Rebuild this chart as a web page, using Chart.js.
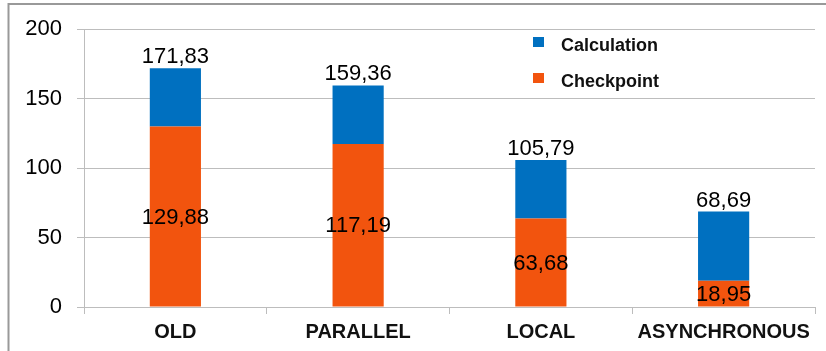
<!DOCTYPE html>
<html>
<head>
<meta charset="utf-8">
<script src="https://cdn.jsdelivr.net/npm/chart.js@4.4.1/dist/chart.umd.min.js"></script>
<style>
  html, body { margin: 0; padding: 0; background: #fff; }
  #wrap { width: 826px; height: 351px; }
</style>
</head>
<body>
<div id="wrap"><canvas id="chart" width="826" height="351"></canvas></div>
<script>
// ── Data ──────────────────────────────
const categories = ['OLD', 'PARALLEL', 'LOCAL', 'ASYNCHRONOUS'];
const checkpoint = [129.88, 117.19, 63.68, 18.95];
const calculation = [41.95, 42.17, 42.11, 49.74];
const yTicks = [0, 50, 100, 150, 200];

const BLUE = '#0070C0';
const ORANGE = '#F2540E';
const GRID = '#BDBDBD';
const FONT = "'Liberation Sans', Arial, sans-serif";

const fmt = v => v.toFixed(2).replace('.', ',');

// ── Frame around the chart (top + left edges visible) ──
const framePlugin = {
  id: 'frame',
  beforeDraw(chart) {
    const ctx = chart.ctx;
    ctx.save();
    ctx.fillStyle = '#fff';
    ctx.fillRect(0, 0, chart.width, chart.height);
    ctx.strokeStyle = '#999';
    ctx.lineWidth = 2;
    ctx.beginPath();
    ctx.moveTo(chart.width, 4);
    ctx.lineTo(8.5, 4);
    ctx.lineTo(8.5, chart.height);
    ctx.stroke();
    ctx.restore();
  }
};

// ── Value labels ──
const labelPlugin = {
  id: 'valueLabels',
  afterDatasetsDraw(chart) {
    const ctx = chart.ctx;
    const bottom = chart.getDatasetMeta(0);
    const top = chart.getDatasetMeta(1);
    ctx.save();
    ctx.fillStyle = '#000';
    ctx.font = '22px ' + FONT;
    ctx.textAlign = 'center';
    bottom.data.forEach((el, i) => {
      ctx.textBaseline = 'middle';
      ctx.fillText(fmt(checkpoint[i]), el.x, (el.y + el.base) / 2 + 1);
      const t = top.data[i];
      ctx.textBaseline = 'alphabetic';
      ctx.fillText(fmt(checkpoint[i] + calculation[i]), t.x, t.y - 5);
    });
    ctx.restore();
  }
};

// ── Legend inside plot area ──
const legendPlugin = {
  id: 'innerLegend',
  afterDraw(chart) {
    const ctx = chart.ctx;
    const items = chart.data.datasets.slice().reverse();
    ctx.save();
    ctx.font = 'bold 18px ' + FONT;
    ctx.textBaseline = 'middle';
    ctx.textAlign = 'left';
    items.forEach((ds, i) => {
      const cy = 42 + i * 36;
      ctx.fillStyle = ds.backgroundColor;
      ctx.fillRect(533, cy - 5, 11, 10);
      ctx.fillStyle = '#111';
      ctx.fillText(ds.label, 561, cy + 4);
    });
    ctx.restore();
  }
};

new Chart(document.getElementById('chart'), {
  type: 'bar',
  data: {
    labels: categories,
    datasets: [
      { label: 'Checkpoint', data: checkpoint, backgroundColor: ORANGE, categoryPercentage: 1, barPercentage: 0.28 },
      { label: 'Calculation', data: calculation, backgroundColor: BLUE, categoryPercentage: 1, barPercentage: 0.28 }
    ]
  },
  options: {
    responsive: false,
    animation: false,
    layout: { padding: { top: 29, right: 11, left: 0, bottom: 0 } },
    plugins: {
      legend: { display: false },
      tooltip: { enabled: false }
    },
    scales: {
      x: {
        stacked: true,
        afterFit: s => { s.height = 44; },
        grid: { offset: true, drawOnChartArea: false, tickLength: 7, color: GRID },
        border: { color: GRID },
        ticks: { color: '#111', padding: 6, font: { family: FONT, size: 20, weight: 'bold' }, maxRotation: 0 }
      },
      y: {
        stacked: true,
        min: 0,
        max: 200,
        afterFit: s => { s.width = 84; },
        afterBuildTicks: s => { s.ticks = yTicks.map(v => ({ value: v })); },
        grid: { color: GRID, tickLength: 7 },
        border: { color: GRID },
        ticks: { color: '#000', padding: 15, font: { family: FONT, size: 22 } }
      }
    }
  },
  plugins: [framePlugin, labelPlugin, legendPlugin]
});
</script>
</body>
</html>
